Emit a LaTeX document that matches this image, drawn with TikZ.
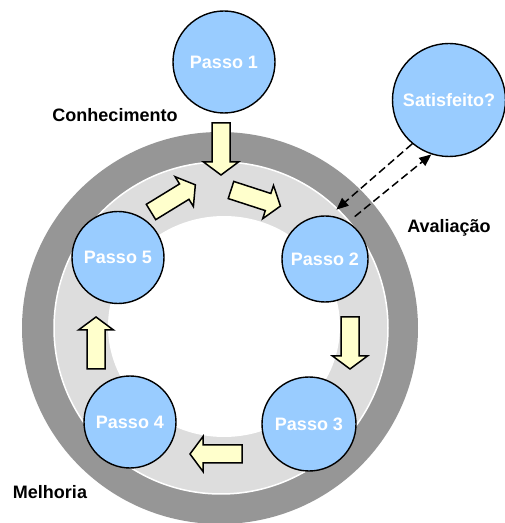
\documentclass[tikz,border=0pt]{standalone}
\usepackage{fontspec}
\setmainfont{Liberation Sans}
\usetikzlibrary{arrows.meta}
\definecolor{stepblue}{HTML}{99CCFF}
\definecolor{ringdark}{HTML}{969696}
\definecolor{ringlight}{HTML}{DDDDDD}
\definecolor{arrowyellow}{HTML}{FFFFCC}
\begin{document}
\begin{tikzpicture}[x=1pt,y=1pt,
  stepnode/.style={circle, fill=stepblue, draw=black, line width=1.4pt,
    text=white, font=\bfseries\fontsize{18}{20}\selectfont, inner sep=0pt},
  labeltext/.style={font=\bfseries\fontsize{18}{20}\selectfont, inner sep=0pt},
  ringarrow/.pic={\draw[fill=arrowyellow, line width=1.5pt, line join=miter]
    (0,-9) -- (39,-9) -- (39,-17.5) -- (52,0) -- (39,17.5) -- (39,9) -- (0,9) -- cycle;},
  dasharrow/.style={line width=1.5pt, dash pattern=on 8pt off 4pt,
    -{Triangle[length=12pt,width=10pt]}}
]
\useasboundingbox (0,0) rectangle (505,523);

% the cycle ring
\fill[ringdark] (220,195) ellipse [x radius=198, y radius=196];
\filldraw[fill=ringlight, draw=white, line width=1.5pt] (221,195) ellipse [x radius=167, y radius=166];
\fill[white] (224,196.5) ellipse [x radius=116, y radius=110.5];

% steps
\node[stepnode, minimum size=102pt] (p1) at (224,461) {Passo 1};
\node[stepnode, minimum size=113pt] (sat) at (449,423) {Satisfeito?};
\node[stepnode, minimum size=92pt] (p5) at (118,265.5) {Passo 5};
\node[stepnode, minimum size=86pt] (p2) at (325,264) {Passo 2};
\node[stepnode, minimum size=92pt] (p4) at (130,101) {Passo 4};
\node[stepnode, minimum size=94pt] (p3) at (309,99) {Passo 3};

% block arrows around the ring
\pic[rotate=-90] at (221,400) {ringarrow};
\pic[rotate=-18] at (231,333) {ringarrow};
\pic[rotate=31.5] at (151,311) {ringarrow};
\pic[rotate=-90] at (350,206) {ringarrow};
\pic[rotate=180] at (242,69) {ringarrow};
\pic[rotate=90] at (96,154) {ringarrow};

% evaluation loop
\draw[dasharrow, shorten >=9pt] (sat.230) -- (p2.84);
\draw[dasharrow, shorten <=8.5pt] (p2.58) -- (sat.252);

% labels
\node[labeltext] (lconh) at (115,408) {Conhecimento};
\node[labeltext] (laval) at (449,295) {Avaliação};
\node[labeltext] (lmelh) at (50,31) {Melhoria};
\end{tikzpicture}
\end{document}
